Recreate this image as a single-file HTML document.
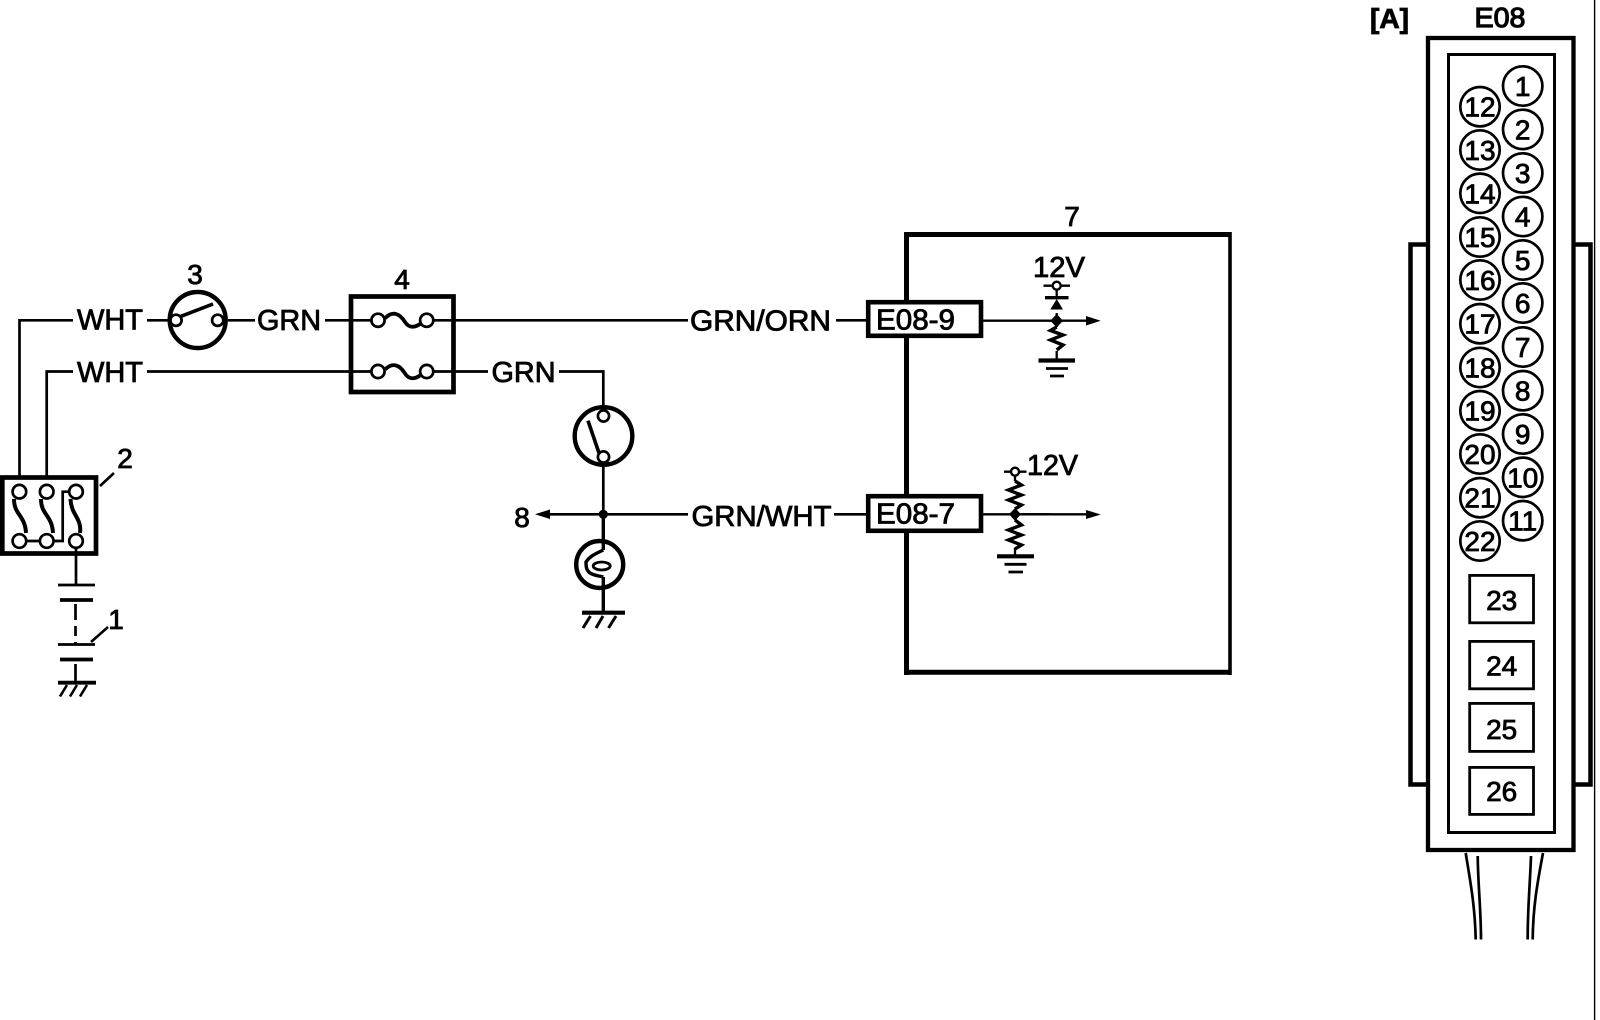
<!DOCTYPE html>
<html><head><meta charset="utf-8"><style>
html,body{margin:0;padding:0;background:#fff}
svg{display:block}
text{font-family:"Liberation Sans",sans-serif;font-size:29px;fill:#000;stroke:#000;stroke-width:.85}
.s{font-size:28px;text-anchor:middle}
</style></head><body>
<svg width="1600" height="1020" viewBox="0 0 1600 1020" xmlns="http://www.w3.org/2000/svg">
<rect width="1600" height="1020" fill="#fff"/>
<g fill="none" stroke="#000" stroke-width="2.7">
<!-- wires -->
<path d="M19.5 477V320.3H73M147 320.3H170M228 320.3H255M325 320.3H371M433 320.3H688M836 320.3H866"/>
<path d="M46.7 477V371.5H73M147 371.5H371M433 371.5H488M559 371.5H603.3V407"/>
<path d="M603.3 467V514.3M550 514.3H688M834 514.3H866"/>
<path stroke-width="3.4" d="M603.3 514V550M603.3 577V613"/>
<path stroke-width="2.3" d="M983 320.7H1050M983 514.3H1050"/>
<!-- box 2 -->
<rect x="2.3" y="477.5" width="93.7" height="76" stroke-width="4.7"/>
<g fill="#fff">
<circle cx="19.4" cy="491.7" r="6.8"/><circle cx="46.7" cy="491.7" r="6.8"/><circle cx="76" cy="491.7" r="6.8"/>
<circle cx="19.4" cy="541" r="6.8"/><circle cx="46.7" cy="541" r="6.8"/><circle cx="76" cy="541" r="6.8"/>
</g>
<g stroke-width="4">
<path d="M14 499C14 515 25 515 26 533M41 499C41 515 52 515 53 533M70.5 499C71 515 82 518 80 533"/>
</g>
<path d="M27 541H39M53.5 541H62.7V491.7H69"/>
<path d="M76 548V585"/>
<!-- battery -->
<path d="M58 585H95M58 644.5H95"/>
<path stroke-width="3.8" d="M60 600H93M60 659.5H93M58 682.7H96"/>
<path d="M75.5 604V620M75.5 626V636M75.5 642V644M75.5 664V682"/>
<path stroke-width="2.6" d="M67 685L60 696.5M77 685L70 696.5M87 685L80 696.5"/>
<path stroke-width="2.6" d="M100 486L114 473M91 642L108 627"/>
<!-- switch 3 -->
<circle cx="197.7" cy="320" r="28" stroke-width="4.4"/>
<circle cx="176" cy="320.3" r="5.6" fill="#fff"/><circle cx="217.7" cy="320.3" r="5.6" fill="#fff"/>
<path stroke-width="3.6" d="M180 316.7L213 304"/>
<!-- fuse box -->
<rect x="351" y="296.5" width="102.5" height="95.5" stroke-width="4.7"/>
<circle cx="378" cy="320.3" r="6.6" fill="#fff"/><circle cx="426.7" cy="320.3" r="6.6" fill="#fff"/>
<path stroke-width="3.8" d="M385 318.3C393 310 400 314 405 322C409 328 414 328 420 324"/>
<g transform="translate(0 51.5)">
<circle cx="378" cy="320" r="6.6" fill="#fff"/><circle cx="426.7" cy="320" r="6.6" fill="#fff"/>
<path stroke-width="3.8" d="M385 318C393 310 400 314 405 322C409 328 414 328 420 324"/>
</g>
<!-- switch bottom -->
<circle cx="603.5" cy="436" r="28.8" stroke-width="4.4"/>
<circle cx="603.5" cy="416" r="5.6" fill="#fff"/><circle cx="603.5" cy="457" r="5.6" fill="#fff"/>
<path stroke-width="3.6" d="M588 420.7L599 453"/>
<!-- bulb -->
<circle cx="599.7" cy="564.5" r="23.5" stroke-width="4.4"/>
<path stroke-width="3.4" d="M603.3 550C595 554 590 556 586 562C586 566 586 570 590 573C595 576 600 576 603.3 577"/>
<ellipse cx="601.7" cy="566" rx="8.5" ry="4" stroke-width="2.8"/>
<path stroke-width="4.2" d="M582 612.7H625"/>
<path stroke-width="3" d="M590.5 616L583 628M603 616L596 628M616 616L608.5 628"/>
<!-- box 7 -->
<path stroke-width="5" d="M906.5 234.5H1230.5M906.5 672.3H1230.5M906.5 232V300M906.5 338V494M906.5 533V675"/>
<path stroke-width="3.6" d="M1230 232V675"/>
<rect x="868.2" y="302.2" width="112.8" height="33.6" fill="#fff" stroke-width="4.6"/>
<rect x="868.2" y="496.2" width="112.8" height="34.6" fill="#fff" stroke-width="4.6"/>
<!-- upper internals -->
<path stroke-width="2.3" d="M1050 320.7H1087M1056.7 313V327M1056.7 351V360M1056.7 290V297"/>
<circle cx="1056.7" cy="285.7" r="4" fill="#fff" stroke-width="2.4"/>
<path stroke-width="2.4" d="M1043.5 285.7H1052M1061 285.7H1070"/>
<path stroke-width="3.4" d="M1045 297.7H1068.5"/>
<path stroke-width="3.4" d="M1056.7 327L1050.5 330.5L1063 335L1050.5 340L1063 345L1056.7 350"/>
<path stroke-width="4.2" d="M1038.5 360.5H1075"/>
<path stroke-width="2.8" d="M1046 368.5H1068M1050 376H1064"/>
<!-- lower internals -->
<path stroke-width="2.3" d="M1015 514.3H1087M1015 476V481M1015 548V556"/>
<circle cx="1015" cy="471.7" r="4" fill="#fff" stroke-width="2.4"/>
<path stroke-width="2.4" d="M1004 471.7H1011M1019 471.7H1026.5"/>
<path stroke-width="3.4" d="M1015 481L1021.5 485L1008.5 490L1021.5 495L1008.5 500L1021.5 505L1015 509M1015 520L1021.5 525L1008.5 530L1021.5 535L1008.5 540L1021.5 545L1015 549"/>
<path stroke-width="4.2" d="M997 556.3H1034"/>
<path stroke-width="2.8" d="M1004.5 564.3H1026.5M1008.5 572H1023"/>
<!-- connector -->
<rect x="1428" y="38" width="145.5" height="812" stroke-width="4.3"/>
<rect x="1448.5" y="54.5" width="106" height="778" stroke-width="3"/>
<path stroke-width="4.5" d="M1426 244.5H1410.5V784.5H1426M1575 244.5H1590.5V784.5H1575"/>
<g stroke-width="2.7">
<circle cx="1522.7" cy="86" r="19.7"/><circle cx="1522.7" cy="129.4" r="19.7"/><circle cx="1522.7" cy="173" r="19.7"/><circle cx="1522.7" cy="216.5" r="19.7"/><circle cx="1522.7" cy="260" r="19.7"/><circle cx="1522.7" cy="303" r="19.7"/><circle cx="1522.7" cy="347" r="19.7"/><circle cx="1522.7" cy="390.7" r="19.7"/><circle cx="1522.7" cy="434" r="19.7"/><circle cx="1522.7" cy="477.3" r="19.7"/><circle cx="1522.7" cy="520.7" r="19.7"/>
<circle cx="1480" cy="106.7" r="19.7"/><circle cx="1480" cy="150" r="19.7"/><circle cx="1480" cy="193.3" r="19.7"/><circle cx="1480" cy="237" r="19.7"/><circle cx="1480" cy="280" r="19.7"/><circle cx="1480" cy="323.7" r="19.7"/><circle cx="1480" cy="367.5" r="19.7"/><circle cx="1480" cy="410.7" r="19.7"/><circle cx="1480" cy="454" r="19.7"/><circle cx="1480" cy="497.7" r="19.7"/><circle cx="1480" cy="541" r="19.7"/>
</g>
<g stroke-width="2.8">
<rect x="1469.7" y="575.4" width="63.8" height="47.4"/>
<rect x="1469.7" y="641.4" width="63.8" height="47.4"/>
<rect x="1469.7" y="703.4" width="63.8" height="48"/>
<rect x="1469.7" y="767.4" width="63.8" height="47"/>
</g>
<path d="M1465.7 853C1470 880 1475 905 1475.7 939.5M1477.7 856C1478 885 1481 910 1481 939.5M1531 856C1530 885 1527.5 910 1527.7 939.5M1543 853C1538 880 1533 905 1532.7 939.5"/>
<path stroke-width="1.4" d="M1594.6 0V1020"/>
</g>
<g fill="#000" stroke="none">
<path d="M535 514.3L550 509.5V519Z"/>
<circle cx="603.3" cy="514.3" r="4.6"/>
<path d="M1086 316L1100.7 320.7L1086 325.5ZM1086 510L1100.7 514.5L1086 519Z"/>
<path d="M1056.7 314L1063 320.7L1056.7 327.5L1050.3 320.7Z"/>
<path d="M1056.7 299L1063 309.5H1050.3Z"/>
<path d="M1015 508L1021 514.3L1015 520.7L1009 514.3Z"/>
</g>
<text x="77" y="329.5" textLength="66" lengthAdjust="spacingAndGlyphs">WHT</text>
<text x="77" y="382" textLength="66" lengthAdjust="spacingAndGlyphs">WHT</text>
<text x="257" y="330" textLength="64" lengthAdjust="spacingAndGlyphs">GRN</text>
<text x="491.5" y="382" textLength="64" lengthAdjust="spacingAndGlyphs">GRN</text>
<text x="690" y="330.5" textLength="141" lengthAdjust="spacingAndGlyphs">GRN/ORN</text>
<text x="691.5" y="526" textLength="140" lengthAdjust="spacingAndGlyphs">GRN/WHT</text>
<text x="876" y="329.5" textLength="79" lengthAdjust="spacingAndGlyphs">E08-9</text>
<text x="876" y="523.5" textLength="79" lengthAdjust="spacingAndGlyphs">E08-7</text>
<text x="1033" y="277" textLength="52" lengthAdjust="spacingAndGlyphs">12V</text>
<text x="1027" y="475" textLength="51" lengthAdjust="spacingAndGlyphs">12V</text>
<text x="195" y="284" class="s">3</text>
<text x="402" y="289" class="s">4</text>
<text x="1072" y="226" class="s">7</text>
<text x="125" y="468" class="s">2</text>
<text x="116" y="629" class="s">1</text>
<text x="522" y="527" class="s">8</text>
<text x="1370" y="28" style="font-weight:bold;font-size:28px" textLength="39" lengthAdjust="spacingAndGlyphs">[A]</text>
<text x="1500" y="27" class="s" textLength="51" lengthAdjust="spacingAndGlyphs" style="stroke-width:1.2">E08</text>
<g>
<text x="1522.7" y="96" class="s">1</text><text x="1522.7" y="139.4" class="s">2</text><text x="1522.7" y="183" class="s">3</text><text x="1522.7" y="226.5" class="s">4</text><text x="1522.7" y="270" class="s">5</text><text x="1522.7" y="313" class="s">6</text><text x="1522.7" y="357" class="s">7</text><text x="1522.7" y="400.7" class="s">8</text><text x="1522.7" y="444" class="s">9</text><text x="1522.7" y="487.3" class="s">10</text><text x="1522.7" y="530.7" class="s">11</text>
<text x="1480" y="116.7" class="s">12</text><text x="1480" y="160" class="s">13</text><text x="1480" y="203.3" class="s">14</text><text x="1480" y="247" class="s">15</text><text x="1480" y="290" class="s">16</text><text x="1480" y="333.7" class="s">17</text><text x="1480" y="377.5" class="s">18</text><text x="1480" y="420.7" class="s">19</text><text x="1480" y="464" class="s">20</text><text x="1480" y="507.7" class="s">21</text><text x="1480" y="551" class="s">22</text>
<text x="1501.7" y="610" class="s">23</text><text x="1501.7" y="675.5" class="s">24</text><text x="1501.7" y="739" class="s">25</text><text x="1501.7" y="801" class="s">26</text>
</g>
</svg>
</body></html>
